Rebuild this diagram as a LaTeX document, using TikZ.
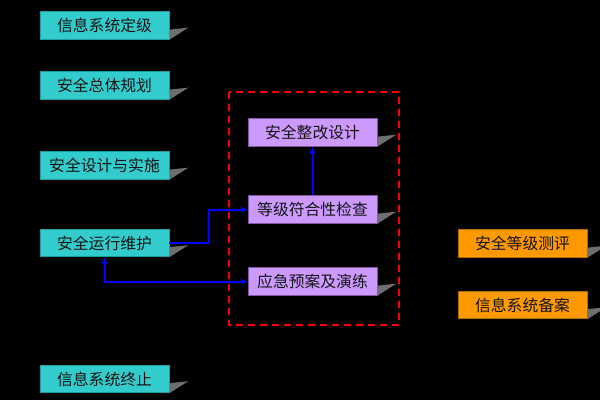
\documentclass[tikz,border=0pt]{standalone}
\usepackage{fontspec}
\setmainfont{Noto Sans CJK SC}
\usetikzlibrary{arrows.meta}
\definecolor{tealc}{HTML}{33CCCC}
\definecolor{tealb}{HTML}{1F9E9E}
\definecolor{purc}{HTML}{CC99FF}
\definecolor{purb}{HTML}{7A5A99}
\definecolor{orac}{HTML}{FF9900}
\definecolor{orab}{HTML}{B36B00}
\definecolor{shadc}{HTML}{6E6E6E}
\definecolor{txtc}{HTML}{141414}
\pgfdeclarelayer{bglayer}
\pgfdeclarelayer{shadowlayer}
\pgfsetlayers{bglayer,shadowlayer,main}
\newcommand{\boxshadow}[1]{\fill[shadc] (#1.south east) -- ++(0,-10) -- ++(19,-2) -- cycle;}
\begin{document}
\begin{tikzpicture}[x=1pt,y=-1pt,
  basebox/.style={draw, line width=0.8pt, minimum width=129pt, minimum height=27.5pt, inner sep=0pt, font=\fontsize{15.8}{16}\selectfont, text=txtc},
  tbox/.style={basebox, fill=tealc, draw=tealb},
  pbox/.style={basebox, fill=purc, draw=purb},
  obox/.style={basebox, fill=orac, draw=orab},
  tipa/.tip={Latex[length=6.5pt,width=6.5pt]},
  conn/.style={draw=blue, line width=2pt, -tipa},
  frame/.style={draw=red, line width=2.2pt, dash pattern=on 7pt off 5pt}]
\begin{pgfonlayer}{bglayer}
\fill[black] (0,0) rectangle (600,400);
\end{pgfonlayer}
\useasboundingbox (0,0) rectangle (600,400);
\path
  (104.5,25.5) node[tbox] (t1) {信息系统定级}
  (104.5,85.5) node[tbox] (t2) {安全总体规划}
  (104.5,165.5) node[tbox] (t3) {安全设计与实施}
  (104.5,243) node[tbox] (t4) {安全运行维护}
  (104.5,379) node[tbox] (t5) {信息系统终止}
  (312.5,132.5) node[pbox] (p1) {安全整改设计}
  (312.5,209.5) node[pbox] (p2) {等级符合性检查}
  (312.5,281.5) node[pbox] (p3) {应急预案及演练}
  (522.5,243.5) node[obox] (o1) {安全等级测评}
  (522.5,305) node[obox] (o2) {信息系统备案};
\begin{pgfonlayer}{shadowlayer}
\boxshadow{t1}\boxshadow{t2}\boxshadow{t3}\boxshadow{t4}\boxshadow{t5}
\boxshadow{p1}\boxshadow{p2}\boxshadow{p3}\boxshadow{o1}\boxshadow{o2}
\end{pgfonlayer}
\coordinate (fa) at (229,92);
\coordinate (fb) at (399,325);
\draw[frame] (fa) rectangle (fb);
\draw[conn] (t4.east) -- ++(40,0) |- (p2.west);
\draw[conn] (p2.north) -- (p1.south);
\draw[conn, tipa-tipa] (t4.south) |- (p3.west);
\end{tikzpicture}
\end{document}
